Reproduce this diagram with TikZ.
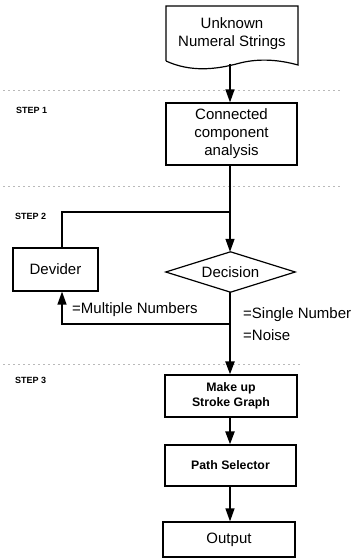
\documentclass[tikz,border=0pt]{standalone}
\usepackage{fontspec}
\setmainfont{Liberation Sans}
\usetikzlibrary{arrows.meta}
\begin{document}
\begin{tikzpicture}[x=1pt,y=1pt,
  box/.style={draw, line width=1.2pt, inner sep=0pt, align=center, font=\fontsize{15}{18}\selectfont},
  sbox/.style={draw, line width=1.2pt, inner sep=0pt, align=center, font=\fontsize{12.3}{15}\selectfont\bfseries},
  plain/.style={inner sep=0pt, align=center, font=\fontsize{15}{18}\selectfont},
  steplabel/.style={inner sep=0pt, anchor=west, font=\fontsize{9}{11}\selectfont\bfseries},
  lbl/.style={inner sep=0pt, anchor=west, font=\fontsize{15}{18}\selectfont},
  conn/.style={line width=1.3pt},
  thick conn/.style={line width=2.2pt},
  arr/.style={-{Triangle[width=9pt,length=13pt]}},
  sep/.style={gray!55, line width=0.6pt, dash pattern=on 1.5pt off 3.5pt}
]
\useasboundingbox (0,0) rectangle (355,-559);

% separators
\draw[sep] (3,-90) -- (343,-90);
\draw[sep] (3,-186) -- (343,-186);
\draw[sep] (3,-364) -- (300,-364);

% step labels
\node[steplabel] (s1) at (16,-110) {STEP 1};
\node[steplabel] (s2) at (15,-216) {STEP 2};
\node[steplabel] (s3) at (15,-380) {STEP 3};

% document shape
\node[plain, minimum width=132pt, minimum height=56pt] (doc) at (232,-34) {Unknown\\Numeral Strings};
\draw[line width=1.2pt] (166,-61) -- (166,-6) -- (298,-6) -- (298,-65)
  .. controls (280,-60) and (260,-58) .. (240,-63)
  .. controls (215,-70) and (190,-72) .. (166,-61);

\node[box, minimum width=131pt, minimum height=62pt] (cca) at (231.5,-134) {Connected\\component\\analysis};
\node[box, minimum width=85pt, minimum height=43pt] (div) at (55.5,-269.5) {Devider};
\node[plain, minimum width=129pt, minimum height=40pt] (dec) at (230.5,-272) {Decision};
\draw[line width=1.2pt] (dec.west) -- (dec.north) -- (dec.east) -- (dec.south) -- cycle;
\node[sbox, minimum width=132pt, minimum height=42pt] (mk) at (231,-396) {Make up\\Stroke Graph};
\node[sbox, minimum width=131pt, minimum height=41pt] (ps) at (230.5,-465.5) {Path Selector};
\node[box, minimum width=132pt, minimum height=35pt] (out) at (229,-539.5) {Output};

% junctions
\coordinate (d1) at (230,-64);
\coordinate (b1) at (230,-212);
\coordinate (b1l) at (62,-212);
\coordinate (b2) at (230,-324);
\coordinate (b2l) at (62,-324);

% connectors
\draw[conn, arr] (d1) -- (cca.north -| d1);
\draw[conn] (cca.south -| b1) -- (b1) -- (b1l) -- (b1l |- div.north);
\draw[conn, arr] (b1) -- (dec.north -| b1);
\draw[thick conn, arr] (dec.south -| b2) -- (mk.north -| b2);
\draw[conn, arr] (b2) -- (b2l) -- (b2l |- div.south);
\draw[thick conn, arr] (mk.south -| b2) -- (ps.north -| b2);
\draw[conn, arr] (ps.south -| b2) -- (out.north -| b2);

% labels
\node[lbl] (lm) at (72,-310) {=Multiple Numbers};
\node[lbl] (ls) at (243,-315) {=Single Number};
\node[lbl] (ln) at (243,-335) {=Noise};
\end{tikzpicture}
\end{document}
